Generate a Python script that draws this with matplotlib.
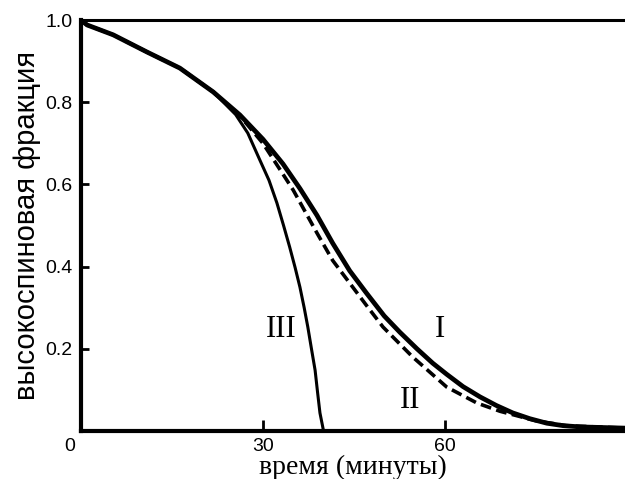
import numpy as np
import matplotlib
matplotlib.use("Agg")
import matplotlib.pyplot as plt
import matplotlib.transforms as mtransforms

# ── данные ────────────────────────────────────────────────
t_I = [0, 1.0, 5.3, 10.9, 16.3, 21.8, 26.2, 30.0, 33.3, 36.1, 38.9, 41.5,
       44.3, 47.1, 50.0, 52.6, 55.4, 58.0, 60.3, 63.0, 65.8, 68.5, 71.2,
       74.0, 76.8, 79.5, 82.3, 89.7]
f_I = [1.0, 0.988, 0.964, 0.922, 0.883, 0.825, 0.769, 0.71, 0.65, 0.59, 0.525,
       0.457, 0.39, 0.335, 0.28, 0.24, 0.20, 0.165, 0.138, 0.108, 0.083,
       0.062, 0.044, 0.030, 0.019, 0.013, 0.010, 0.007]

t_II = [0, 1.0, 5.3, 10.9, 16.3, 21.8, 26.2, 30.0, 33.3, 35.0, 38.9, 41.5,
        44.3, 47.1, 49.8, 54.7, 60.3, 65.3, 69.1, 75.0, 80.0, 89.7]
f_II = [1.0, 0.988, 0.964, 0.922, 0.883, 0.825, 0.767, 0.70, 0.625, 0.586,
        0.482, 0.415, 0.36, 0.305, 0.253, 0.18, 0.107, 0.068, 0.048, 0.025,
        0.013, 0.007]

t_III = [0, 1.0, 5.3, 10.9, 16.3, 21.8, 25.5, 27.5, 29.5, 31.0, 32.3, 33.4,
         34.4, 35.3, 36.1, 36.8, 37.4, 38.0, 38.6, 39.0, 39.4, 39.9]
f_III = [1.0, 0.988, 0.964, 0.922, 0.883, 0.825, 0.77, 0.725, 0.659, 0.61,
         0.555, 0.50, 0.448, 0.398, 0.350, 0.30, 0.253, 0.20, 0.148, 0.095,
         0.044, 0.007]

x_ticks = [0, 30, 60]
x_labels = ["0", "30", "60"]
y_ticks = [0.2, 0.4, 0.6, 0.8, 1.0]
y_labels = ["0.2", "0.4", "0.6", "0.8", "1.0"]

curve_names = ["I", "II", "III"]
name_pos = [(59.2, 0.246), (54.2, 0.075), (33.1, 0.246)]

# ── рисунок ───────────────────────────────────────────────
fig = plt.figure(figsize=(6.25, 4.79), dpi=100)
ax = fig.add_axes([0.1296, 0.1002, 0.8704, 0.8580])

ax.plot(t_I, f_I, color="black", lw=3.4, solid_capstyle="round",
        solid_joinstyle="round")
ax.plot(t_II, f_II, color="black", lw=2.6, linestyle=(0, (3, 1.5)))
ax.plot(t_III, f_III, color="black", lw=2.2, solid_joinstyle="round")

ax.set_xlim(0, 89.7)
ax.set_ylim(0, 1.0)

ax.spines["right"].set_visible(False)
ax.spines["left"].set_linewidth(3.0)
ax.spines["bottom"].set_linewidth(3.0)
ax.spines["top"].set_linewidth(2.2)

ax.set_xticks(x_ticks)
ax.set_xticklabels(x_labels, fontsize=14, family="Liberation Sans")
ax.set_yticks(y_ticks)
ax.set_yticklabels(y_labels, fontsize=14, family="Liberation Sans")
ax.tick_params(axis="x", direction="in", length=8, width=2, pad=5)
ax.tick_params(axis="y", direction="in", length=6, width=2, pad=6)

# метка "0" смещена левее начала координат
lbl0 = ax.get_xticklabels()[0]
lbl0.set_transform(lbl0.get_transform() +
                   mtransforms.ScaledTranslation(-11 / 100, 0, fig.dpi_scale_trans))

for name, (xp, yp) in zip(curve_names, name_pos):
    ax.text(xp, yp, name, fontsize=22, family="Liberation Serif",
            ha="center", va="center")

ax.set_xlabel("время (минуты)", fontsize=20, family="Liberation Serif", labelpad=0)
ax.set_ylabel("высокоспиновая фракция", fontsize=21, family="Liberation Sans",
              labelpad=3)

fig.savefig("out.png", dpi=100)
